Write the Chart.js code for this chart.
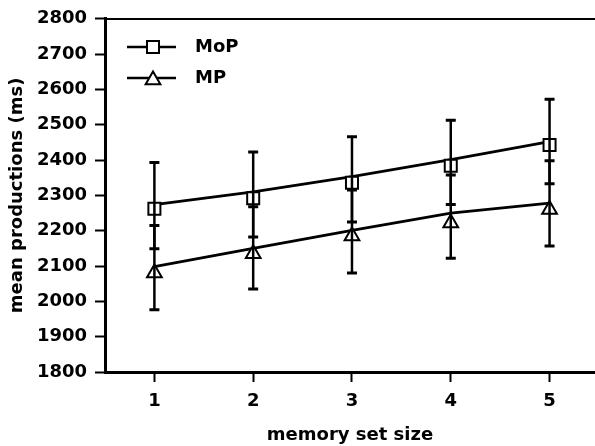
<!DOCTYPE html>
<html>
<head>
<meta charset="utf-8">
<script src="https://cdn.jsdelivr.net/npm/chart.js@4.4.0/dist/chart.umd.min.js"></script>
<style>
  html, body { margin: 0; padding: 0; background: #fff; }
  #chart { display: block; }
</style>
</head>
<body>
<canvas id="chart" width="595" height="446"></canvas>
<script>
// memory set size on x, mean production time (ms) on y
const sizes   = [1, 2, 3, 4, 5];
const yTicks  = [1800, 1900, 2000, 2100, 2200, 2300, 2400, 2500, 2600, 2700, 2800];

const mopMean = [2262, 2292, 2336, 2384, 2443];
const mopLow  = [2149, 2182, 2225, 2274, 2333];
const mopHigh = [2393, 2423, 2466, 2513, 2572];
const mopFit  = [2274, 2310, 2353, 2401, 2452];

const mpMean  = [2080, 2135, 2185, 2222, 2260];
const mpLow   = [1976, 2035, 2080, 2122, 2157];
const mpHigh  = [2215, 2268, 2315, 2358, 2398];
const mpFit   = [2098, 2150, 2201, 2250, 2278];

const FONT = 'DejaVu Sans';
const pts = (ys) => sizes.map((x, i) => ({ x, y: ys[i] }));

const errorBars = {
  id: 'errorBars',
  afterDatasetsDraw(chart) {
    const { ctx, scales: { x, y } } = chart;
    ctx.save();
    ctx.strokeStyle = '#000';
    [[mopLow, mopHigh], [mpLow, mpHigh]].forEach(([lo, hi]) => {
      sizes.forEach((s, i) => {
        const px = x.getPixelForValue(s);
        const y1 = y.getPixelForValue(lo[i]);
        const y2 = y.getPixelForValue(hi[i]);
        ctx.lineWidth = 2.5;
        ctx.beginPath();
        ctx.moveTo(px, y1); ctx.lineTo(px, y2);
        ctx.stroke();
        ctx.lineWidth = 3;
        ctx.beginPath();
        ctx.moveTo(px - 5, y1); ctx.lineTo(px + 5, y1);
        ctx.moveTo(px - 5, y2); ctx.lineTo(px + 5, y2);
        ctx.stroke();
      });
    });
    ctx.restore();
  }
};

// legend drawn inside the plot: short line with the marker on it, then the label
const insideLegend = {
  id: 'insideLegend',
  afterDraw(chart) {
    const { ctx } = chart;
    const items = [
      { label: 'MoP', style: 'rect', radius: 8.5, y: 47 },
      { label: 'MP', style: 'triangle', radius: 8.5, y: 78 }
    ];
    ctx.save();
    items.forEach(it => {
      ctx.strokeStyle = '#000';
      ctx.lineWidth = 2.5;
      ctx.beginPath();
      ctx.moveTo(127, it.y); ctx.lineTo(176, it.y);
      ctx.stroke();
      ctx.fillStyle = '#fff';
      ctx.lineWidth = 2;
      Chart.helpers.drawPoint(ctx,
        { pointStyle: it.style, radius: it.radius, rotation: 0, borderWidth: 2 },
        153, it.style === 'triangle' ? it.y + 2 : it.y);
      ctx.fillStyle = '#000';
      ctx.font = 'bold 18px "' + FONT + '"';
      ctx.textBaseline = 'middle';
      ctx.fillText(it.label, 195, it.y);
    });
    ctx.restore();
  }
};

const tickFont = { family: FONT, size: 18, weight: 'bold' };
const axisGrid = { display: true, drawOnChartArea: false, drawTicks: true, tickLength: 10, tickWidth: 2, color: '#000' };
const axisBorder = { display: true, width: 3, color: '#000' };

new Chart(document.getElementById('chart'), {
  type: 'line',
  data: {
    datasets: [
      { label: 'MoP fit', data: pts(mopFit), borderColor: '#000', borderWidth: 2.8, pointRadius: 0, tension: 0, order: 3 },
      { label: 'MP fit', data: pts(mpFit), borderColor: '#000', borderWidth: 2.8, pointRadius: 0, tension: 0, order: 3 },
      { label: 'MoP', data: pts(mopMean), showLine: false, pointStyle: 'rect', pointRadius: 8.5,
        pointBackgroundColor: '#fff', pointBorderColor: '#000', pointBorderWidth: 2, order: 1 },
      { label: 'MP', data: pts(mpMean), showLine: false, pointStyle: 'triangle', pointRadius: 8.5,
        pointBackgroundColor: '#fff', pointBorderColor: '#000', pointBorderWidth: 2, order: 1 }
    ]
  },
  options: {
    responsive: false,
    animation: false,
    layout: { padding: 0, autoPadding: false },
    plugins: { legend: { display: false }, tooltip: { enabled: false } },
    scales: {
      x: {
        type: 'linear', position: 'bottom', min: 0.5, max: 5.46,
        grid: axisGrid, border: axisBorder,
        ticks: { color: '#000', font: tickFont, padding: 9, callback: v => String(v) },
        afterBuildTicks: s => { s.ticks = sizes.map(v => ({ value: v })); },
        afterFit: s => { s.height = 74; },
        title: { display: true, text: 'memory set size', color: '#000',
                 font: { family: FONT, size: 18, weight: 'bold' }, padding: { top: 6, bottom: 0 } }
      },
      xTop: {
        type: 'linear', position: 'top', display: true,
        grid: { display: false }, ticks: { display: false },
        border: { display: true, width: 2, color: '#000' },
        afterFit: s => { s.height = 14; }
      },
      y: {
        min: 1800, max: 2800,
        grid: axisGrid, border: axisBorder,
        ticks: { color: '#000', font: tickFont, padding: 8, callback: v => String(v) },
        afterBuildTicks: s => { s.ticks = yTicks.map(v => ({ value: v })); },
        afterFit: s => { s.width = 105; },
        title: { display: true, text: 'mean productions (ms)', color: '#000',
                 font: { family: FONT, size: 18, weight: 'bold' }, padding: { top: 7, bottom: 0 } }
      }
    }
  },
  plugins: [errorBars, insideLegend]
});
</script>
</body>
</html>
